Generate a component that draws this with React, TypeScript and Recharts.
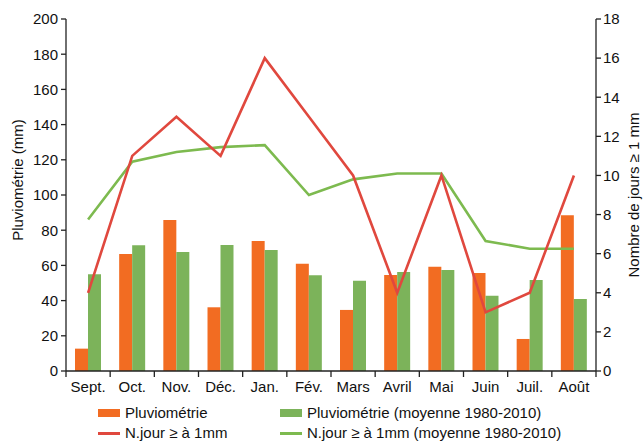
import React from 'react';
import {
  ComposedChart,
  XAxis,
  YAxis,
  Bar,
  Line,
  Legend,
} from 'recharts';

const months = ['Sept.', 'Oct.', 'Nov.', 'Déc.', 'Jan.', 'Fév.', 'Mars', 'Avril', 'Mai', 'Juin', 'Juil.', 'Août'];
const rain = [12.7, 66.5, 85.8, 36.2, 73.9, 61, 34.7, 54.5, 59.3, 55.7, 18.2, 88.5];
const rainAvg = [55, 71.5, 67.6, 71.6, 68.8, 54.4, 51.3, 56.2, 57.4, 42.8, 51.7, 40.9];
const days = [4, 11, 13, 11, 16, 13, 10, 4, 10, 3, 4, 10];
const daysAvg = [7.75, 10.7, 11.2, 11.45, 11.55, 9.0, 9.8, 10.1, 10.1, 6.65, 6.25, 6.25];
const leftTicks = [0, 20, 40, 60, 80, 100, 120, 140, 160, 180, 200];
const rightTicks = [0, 2, 4, 6, 8, 10, 12, 14, 16, 18];

const data = months.map((m, i) => ({
  month: m,
  rain: rain[i],
  rainAvg: rainAvg[i],
  days: days[i],
  daysAvg: daysAvg[i],
}));

const FONT = '"Liberation Sans", Arial, sans-serif';
const ORANGE = '#f26c22';
const GREEN_BAR = '#7cb35a';
const RED = '#e0483e';
const GREEN_LINE = '#7dba4f';

const legendItems = [
  { label: 'Pluviométrie', color: ORANGE, kind: 'rect' },
  { label: 'Pluviométrie (moyenne 1980-2010)', color: GREEN_BAR, kind: 'rect' },
  { label: 'N.jour ≥ à 1mm', color: RED, kind: 'line' },
  { label: 'N.jour ≥ à 1mm (moyenne 1980-2010)', color: GREEN_LINE, kind: 'line' },
];

const MonthTick = (props: any) => {
  const { x, y, payload, index, visibleTicksCount } = props;
  const half = payload.offset || 22;
  const last = index === (visibleTicksCount ?? months.length) - 1;
  return (
    <g>
      <line x1={x - half} x2={x - half} y1={y} y2={y + 6} stroke="#222" strokeWidth={1.3} />
      {last && <line x1={x + half} x2={x + half} y1={y} y2={y + 6} stroke="#222" strokeWidth={1.3} />}
      <text x={x} y={y + 21} textAnchor="middle" fontSize={15} fill="#111" fontFamily={FONT}>
        {payload.value}
      </text>
    </g>
  );
};

const ChartLegend = () => (
  <div style={{ position: 'relative', height: 44, fontFamily: FONT, fontSize: 15, color: '#111' }}>
    {legendItems.map((it, i) => {
      const left = i % 2 === 0 ? 98 : 280;
      const top = i < 2 ? 5 : 25;
      return (
        <div key={it.label} style={{ position: 'absolute', left, top, height: 20, lineHeight: '20px', display: 'flex', alignItems: 'center', whiteSpace: 'nowrap' }}>
          <span
            style={{
              display: 'inline-block',
              width: 22,
              height: it.kind === 'rect' ? 8 : 3,
              background: it.color,
              marginRight: 5,
            }}
          />
          <span>{it.label}</span>
        </div>
      );
    })}
  </div>
);

export default function App() {
  return (
    <div style={{ position: 'fixed', left: 0, top: 0, width: 644, height: 442, background: '#fff', overflow: 'hidden' }}>
      <ComposedChart
        width={644}
        height={442}
        data={data}
        margin={{ top: 19, right: 0, left: 0, bottom: 0 }}
        barSize={13}
        barGap={0}
      >
        <XAxis
          dataKey="month"
          xAxisId="m"
          height={27}
          tickLine={false}
          tickSize={0}
          tickMargin={0}
          tick={<MonthTick />}
          interval={0}
          stroke="#222"
          strokeWidth={1.3}
        />
        <YAxis
          yAxisId="left"
          width={66}
          domain={[0, 200]}
          ticks={leftTicks}
          tickSize={5}
          tickMargin={3}
          stroke="#222"
          strokeWidth={1.3}
          tick={{ fontSize: 15, fill: '#111', fontFamily: FONT }}
          label={{
            content: (p: any) => {
              const vb = p.viewBox;
              const cx = vb.x + 17;
              const cy = vb.y + vb.height / 2 - 15;
              return (
                <text x={cx} y={cy} transform={`rotate(-90 ${cx} ${cy})`} textAnchor="middle" dominantBaseline="central" fontSize={15} fill="#111" fontFamily={FONT}>
                  Pluviométrie (mm)
                </text>
              );
            },
          }}
        />
        <YAxis
          yAxisId="right"
          orientation="right"
          width={48}
          domain={[0, 18]}
          ticks={rightTicks}
          tickSize={5}
          tickMargin={2}
          stroke="#222"
          strokeWidth={1.3}
          tick={{ fontSize: 15, fill: '#111', fontFamily: FONT }}
          label={{
            content: (p: any) => {
              const vb = p.viewBox;
              const cx = vb.x + 37;
              const cy = vb.y + vb.height / 2;
              return (
                <text x={cx} y={cy} transform={`rotate(-90 ${cx} ${cy})`} textAnchor="middle" dominantBaseline="central" fontSize={15} fill="#111" fontFamily={FONT}>
                  Nombre de jours ≥ 1 mm
                </text>
              );
            },
          }}
        />
        <Legend verticalAlign="bottom" height={44} content={<ChartLegend />} wrapperStyle={{ left: 0, width: 644, overflow: 'visible' }} />
        <Bar xAxisId="m" yAxisId="left" dataKey="rain" name="Pluviométrie" fill={ORANGE} isAnimationActive={false} />
        <Bar xAxisId="m" yAxisId="left" dataKey="rainAvg" name="Pluviométrie (moyenne 1980-2010)" fill={GREEN_BAR} isAnimationActive={false} />
        <Line xAxisId="m" yAxisId="right" dataKey="daysAvg" name="N.jour ≥ à 1mm (moyenne 1980-2010)" stroke={GREEN_LINE} strokeWidth={2.6} dot={false} isAnimationActive={false} />
        <Line xAxisId="m" yAxisId="right" dataKey="days" name="N.jour ≥ à 1mm" stroke={RED} strokeWidth={2.6} dot={false} isAnimationActive={false} />
      </ComposedChart>
    </div>
  );
}
